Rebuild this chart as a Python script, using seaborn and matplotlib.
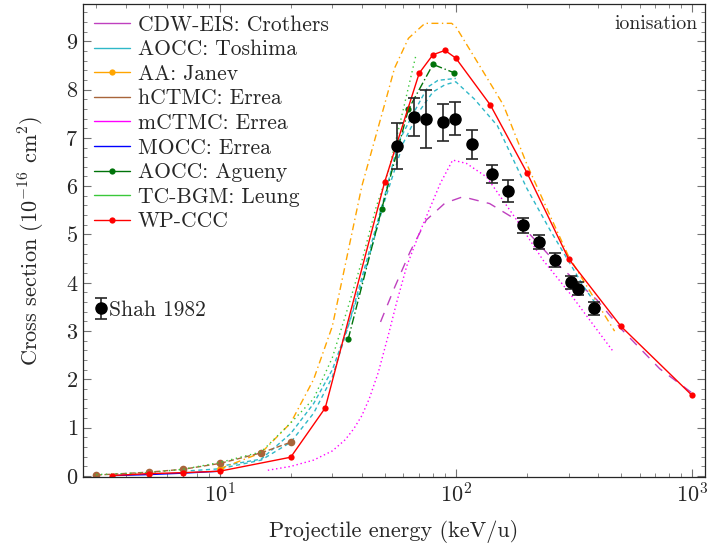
import matplotlib
matplotlib.use("Agg")
import matplotlib.pyplot as plt
import seaborn as sns
from matplotlib.lines import Line2D
from matplotlib.ticker import MultipleLocator

# data (energy in keV/u, cross section in 1e-16 cm^2)
crothers_e = [48, 55, 64, 75, 90, 107, 139, 181, 267, 395, 500, 730, 1000]
crothers_s = [3.19, 3.9, 4.64, 5.3, 5.65, 5.78, 5.64, 5.30, 4.40, 3.65, 3.05, 2.22, 1.72]

toshima_a_e = [10, 15, 20, 25, 30, 35, 40, 50, 57, 66, 76, 84, 100]
toshima_a_s = [0.2, 0.35, 0.88, 1.5, 2.2, 3.1, 4.1, 5.8, 6.9, 7.5, 8.05, 8.19, 8.23]
toshima_b_e = [7, 10, 15, 20, 25, 30, 40, 50, 60, 70, 80, 90, 100, 120, 150, 200, 250, 300, 350, 400]
toshima_b_s = [0.1, 0.15, 0.33, 0.7, 1.3, 2.05, 4.0, 5.7, 6.9, 7.55, 7.95, 8.1, 8.16, 7.8, 7.25, 5.95, 5.1, 4.45, 3.9, 3.5]

janev_e = [10, 15, 20, 25, 30, 40, 50, 55, 63, 74, 96, 100, 128, 159, 200, 250, 300, 400, 470]
janev_s = [0.15, 0.48, 1.1, 2.0, 3.1, 6.0, 7.7, 8.44, 9.06, 9.37, 9.37, 9.30, 8.44, 7.68, 6.45, 5.4, 4.55, 3.55, 3.0]

hctmc_e = [3, 5, 7, 10, 15, 20]
hctmc_s = [0.02, 0.08, 0.14, 0.26, 0.48, 0.70]

mctmc_e = [16, 20, 25, 30, 34, 37, 40, 43, 47, 52, 56, 62, 70, 86, 97, 111, 135, 181, 234, 304, 465]
mctmc_s = [0.12, 0.2, 0.33, 0.52, 0.75, 0.98, 1.25, 1.6, 2.15, 2.95, 3.57, 4.35, 5.02, 6.06, 6.54, 6.47, 6.19, 5.30, 4.47, 3.78, 2.57]

mocc_e = [3.5, 5, 7, 10]
mocc_s = [0.01, 0.03, 0.06, 0.1]

agueny_e = [35, 48.5, 63, 80, 98]
agueny_s = [2.83, 5.52, 7.59, 8.52, 8.35]

leung_e = [3, 5, 7, 10, 15, 20, 25, 30, 35, 40, 46, 52, 60, 68]
leung_s = [0.03, 0.07, 0.14, 0.28, 0.5, 1.1, 1.6, 2.45, 3.5, 4.45, 5.57, 6.33, 7.6, 8.74]

wpccc_e = [3.5, 5, 7, 10, 20, 28, 50, 70, 80, 90, 100, 140, 200, 300, 500, 1000]
wpccc_s = [0.01, 0.05, 0.07, 0.10, 0.39, 1.41, 6.09, 8.34, 8.72, 8.81, 8.65, 7.68, 6.28, 4.50, 3.10, 1.67]

shah_e = [56.6, 66.6, 75, 88, 99, 117, 142, 166, 193, 225, 262, 306, 330, 385]
shah_s = [6.83, 7.43, 7.38, 7.32, 7.40, 6.87, 6.25, 5.90, 5.19, 4.84, 4.47, 4.01, 3.88, 3.47]
shah_err = [0.48, 0.39, 0.6, 0.38, 0.35, 0.3, 0.19, 0.22, 0.15, 0.14, 0.14, 0.13, 0.13, 0.14]

sns.set_style("ticks")
plt.rcParams["font.family"] = ["cmr10", "DejaVu Serif"]
plt.rcParams["mathtext.fontset"] = "cm"
plt.rcParams["axes.unicode_minus"] = False
plt.rcParams["axes.formatter.use_mathtext"] = True

fig = plt.figure(figsize=(7.07, 5.5), dpi=100)
ax = fig.add_axes([0.1174, 0.1327, 0.8798, 0.86])

c_purple = "#bf40bf"
c_cyan = "#2fb8c8"
c_orange = "#ffa500"
c_brown = "#a8653a"
c_magenta = "#ff00ff"
c_blue = "#0000ff"
c_dgreen = "#00730a"
c_lgreen = "#3ac83a"
c_red = "#ff0000"

kw = dict(ax=ax, sort=False, estimator=None, legend=False, lw=1.0)
sns.lineplot(x=mocc_e, y=mocc_s, color=c_blue, **kw)
sns.lineplot(x=crothers_e, y=crothers_s, color=c_purple, linestyle=(0, (7, 6)), **kw)
sns.lineplot(x=toshima_a_e, y=toshima_a_s, color=c_cyan, linestyle=(0, (3, 2)), **kw)
sns.lineplot(x=toshima_b_e, y=toshima_b_s, color=c_cyan, linestyle=(0, (3, 2.5)), **kw)
sns.lineplot(x=janev_e, y=janev_s, color=c_orange, linestyle=(0, (5, 2.5, 1, 2.5)),
             marker="o", markersize=5, markevery=[0, 1], markeredgewidth=0, **kw)
sns.lineplot(x=hctmc_e, y=hctmc_s, color=c_brown, linestyle=(0, (4, 2)),
             marker="o", markersize=5.5, markeredgewidth=0, **kw)
sns.lineplot(x=mctmc_e, y=mctmc_s, color=c_magenta, linestyle=(0, (1, 2)), **kw)
sns.lineplot(x=leung_e, y=leung_s, color=c_lgreen, linestyle=(0, (1, 2.5)), **kw)
sns.lineplot(x=agueny_e, y=agueny_s, color=c_dgreen, linestyle=(0, (6, 2, 1, 2)),
             marker="o", markersize=4.5, markeredgewidth=0, **kw)
sns.lineplot(x=wpccc_e, y=wpccc_s, color=c_red, marker="o", markersize=4.5,
             markeredgewidth=0, **kw)

shah = ax.errorbar(shah_e, shah_s, yerr=shah_err, fmt="o", color="black",
                   ecolor="0.15", markersize=8, capsize=4, elinewidth=1.2,
                   capthick=1.2, zorder=5, label="Shah 1982")

ax.set_xscale("log")
ax.set_xlim(2.64, 1135)
ax.set_ylim(-0.02, 9.77)
ax.yaxis.set_major_locator(MultipleLocator(1))
ax.yaxis.set_minor_locator(MultipleLocator(0.2))
ax.tick_params(which="both", direction="in", top=True, right=True,
               color="0.45", labelsize=16)
ax.tick_params(which="major", length=5.5, width=0.8)
ax.tick_params(which="minor", length=3, width=0.6)
for s in ax.spines.values():
    s.set_linewidth(0.9)

ax.set_xlabel("Projectile energy (keV/u)", fontsize=16, labelpad=10)
ax.set_ylabel(r"Cross section $(10^{-16}$ cm$^2)$", fontsize=16, labelpad=13)

names = ["CDW-EIS: Crothers", "AOCC: Toshima", "AA: Janev", "hCTMC: Errea",
         "mCTMC: Errea", "MOCC: Errea", "AOCC: Agueny", "TC-BGM: Leung", "WP-CCC"]
colors = [c_purple, c_cyan, c_orange, c_brown, c_magenta, c_blue, c_dgreen, c_lgreen, c_red]
marks = ["", "", "o", "", "", "", "o", "", "o"]
handles = [Line2D([], [], color=c, lw=1.0, marker=m, markersize=4.5, markeredgewidth=0)
           for c, m in zip(colors, marks)]
leg1 = ax.legend(handles, names, loc="upper left", bbox_to_anchor=(0.0, 1.0),
                 frameon=False, fontsize=15.5, handlelength=1.65, handletextpad=0.37,
                 labelspacing=0.235, borderaxespad=0.12)
ax.add_artist(leg1)
ax.legend(handles=[shah], labels=["Shah 1982"], loc="center left",
          bbox_to_anchor=(0.0, 0.353), frameon=False, fontsize=15.5,
          handlelength=0.5, handletextpad=0.12, borderaxespad=0.2)

ax.text(0.988, 0.958, "ionisation", transform=ax.transAxes, ha="right",
        va="center", fontsize=14.2)

fig.savefig("out.png", dpi=100)
